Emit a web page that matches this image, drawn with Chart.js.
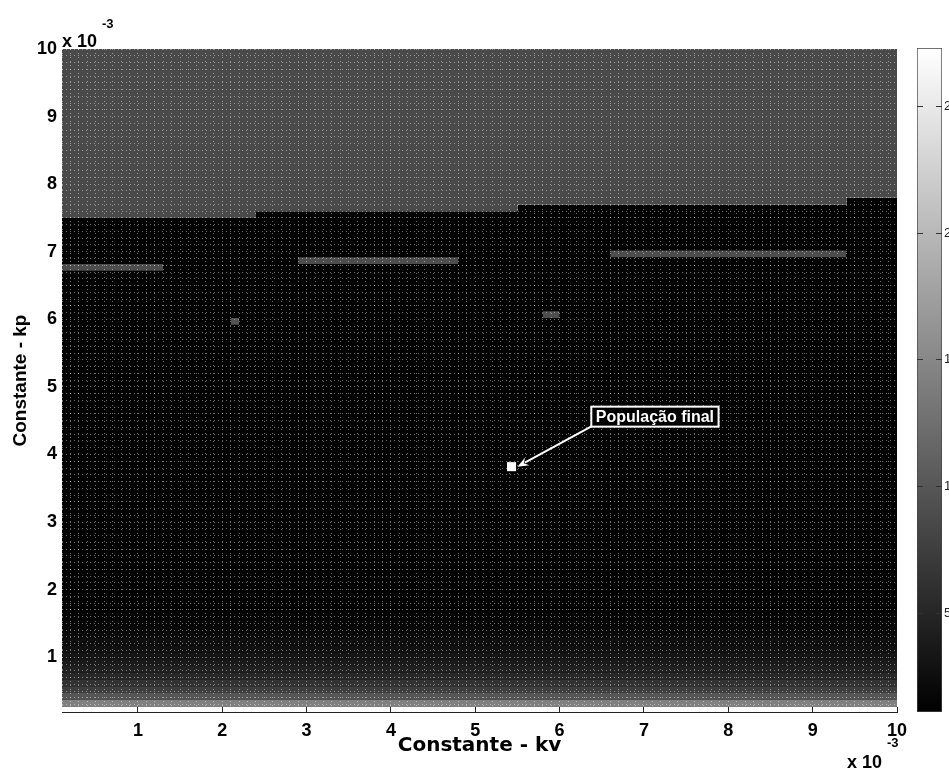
<!DOCTYPE html>
<html>
<head>
<meta charset="utf-8">
<script src="https://cdn.jsdelivr.net/npm/chart.js@4"></script>
<style>
  html, body { margin: 0; padding: 0; background: #fff; overflow: hidden; }
  #wrap { position: relative; width: 949px; height: 769px; }
  #mapChart { position: absolute; left: 0; top: 0; }
  #barChart { position: absolute; left: 900px; top: 0; }
</style>
</head>
<body>
<div id="wrap">
  <canvas id="mapChart" width="949" height="769"></canvas>
  <canvas id="barChart" width="49" height="769"></canvas>
</div>
<script>
// axes limits (values x 10^-3)
const kvMin = 0.1, kvMax = 10;
const kpAxisMin = 0.19, kpMapMin = 0.27, kpMax = 10;
const cellStep = 0.1;
const colorMin = 1.1, colorMax = 27.3;

// edge between the dark area and the grey area on top
const edgeKv = [0.1, 2.4, 5.5, 9.4, 10];
const edgeKp = [7.5, 7.6, 7.7, 7.8, 7.8];
const darkValue = 1.3;
const topValue = 8.7;

// lighter rows at the bottom, one per 0.1 of kp starting at kpMapMin
const bottomRowValue = [14.2, 9.8, 7.5, 6.2, 5.2, 4.4, 3.8, 3.3, 2.8, 2.5, 2.2, 2.0, 1.8, 1.6];

// grey strips and single cells inside the dark area
const patchKvFrom = [0.1, 2.9, 6.6, 2.1, 5.8];
const patchKvTo = [1.3, 4.8, 9.4, 2.2, 6.0];
const patchKpFrom = [6.72, 6.82, 6.92, 5.92, 6.02];
const patchKpTo = [6.82, 6.92, 7.02, 6.02, 6.12];
const patchValue = [9.0, 9.0, 9.0, 9.6, 9.0];

// final population and its label
const finalKv = [5.43];
const finalKp = [3.82];
const noteText = 'População final';
const noteKv = 7.13, noteKp = 4.56;
const arrowKv = [6.41, 5.5];
const arrowKp = [4.44, 3.82];

const axisTicks = [1, 2, 3, 4, 5, 6, 7, 8, 9, 10];
const colorTicks = [5, 10, 15, 20, 25];

const FONT = '"Liberation Sans", Arial, Helvetica, sans-serif';

function gray(v) {
    let g = Math.round(255 * (v - colorMin) / (colorMax - colorMin));
    g = Math.max(0, Math.min(255, g));
    return `rgb(${g},${g},${g})`;
}

function cellLines(from, to) {
    const out = [];
    const n = Math.round((to - from) / cellStep);
    for (let i = 0; i <= n; i++) out.push(Math.round((from + i * cellStep) * 10) / 10);
    return out;
}

function isWhole(v) {
    return Math.abs(v - Math.round(v)) < 1e-6 && axisTicks.includes(Math.round(v));
}

function rect(x0, x1, y0, y1, v, order) {
    return {
        data: [{x: x0, y: y1}, {x: x1, y: y1}],
        fill: {value: y0},
        backgroundColor: gray(v),
        borderWidth: 0,
        pointRadius: 0,
        order: order
    };
}

const datasets = [];
datasets.push({
    data: edgeKv.map((x, i) => ({x: x, y: edgeKp[i]})),
    stepped: true,
    fill: 'end',
    backgroundColor: gray(topValue),
    borderWidth: 0,
    pointRadius: 0,
    order: 10
});
datasets.push({
    data: edgeKv.map((x, i) => ({x: x, y: edgeKp[i]})),
    stepped: true,
    fill: {value: kpMapMin},
    backgroundColor: gray(darkValue),
    borderWidth: 0,
    pointRadius: 0,
    order: 10
});
bottomRowValue.forEach((v, i) => {
    const lo = kpMapMin + i * cellStep;
    datasets.push(rect(kvMin, kvMax, lo, lo + cellStep, v, 5));
});
patchValue.forEach((v, i) => {
    datasets.push(rect(patchKvFrom[i], patchKvTo[i], patchKpFrom[i], patchKpTo[i], v, 3));
});
datasets.push({
    data: finalKv.map((x, i) => ({x: x, y: finalKp[i]})),
    showLine: false,
    fill: false,
    pointStyle: 'rect',
    pointRadius: 6.4,
    pointBackgroundColor: '#fff',
    pointBorderColor: '#fff',
    pointBorderWidth: 0,
    order: 0
});

const notePlugin = {
    id: 'note',
    afterDraw(chart) {
        const {ctx, chartArea: a, scales: {x, y}} = chart;
        ctx.save();
        // arrow
        const x0 = x.getPixelForValue(arrowKv[0]), y0 = y.getPixelForValue(arrowKp[0]);
        const x1 = x.getPixelForValue(arrowKv[1]), y1 = y.getPixelForValue(arrowKp[1]);
        const ang = Math.atan2(y1 - y0, x1 - x0);
        const head = 12;
        ctx.strokeStyle = '#fff';
        ctx.fillStyle = '#fff';
        ctx.lineWidth = 2;
        ctx.beginPath();
        ctx.moveTo(x0, y0);
        ctx.lineTo(x1 - Math.cos(ang) * head * 0.7, y1 - Math.sin(ang) * head * 0.7);
        ctx.stroke();
        ctx.beginPath();
        ctx.moveTo(x1, y1);
        ctx.lineTo(x1 - head * Math.cos(ang - 0.38), y1 - head * Math.sin(ang - 0.38));
        ctx.lineTo(x1 - head * 0.6 * Math.cos(ang), y1 - head * 0.6 * Math.sin(ang));
        ctx.lineTo(x1 - head * Math.cos(ang + 0.38), y1 - head * Math.sin(ang + 0.38));
        ctx.closePath();
        ctx.fill();

        // label box
        ctx.font = 'bold 16px ' + FONT;
        const tx = x.getPixelForValue(noteKv), ty = y.getPixelForValue(noteKp);
        const w = ctx.measureText(noteText).width + 9, h = 20;
        ctx.fillStyle = '#000';
        ctx.fillRect(tx - w / 2, ty - h / 2, w, h);
        ctx.strokeRect(tx - w / 2, ty - h / 2, w, h);
        ctx.fillStyle = '#fff';
        ctx.textAlign = 'center';
        ctx.textBaseline = 'middle';
        ctx.fillText(noteText, tx, ty + 1);

        // x 10^-3 factors
        ctx.fillStyle = '#000';
        ctx.textAlign = 'left';
        ctx.textBaseline = 'alphabetic';
        ctx.font = 'bold 18px ' + FONT;
        ctx.fillText('x 10', a.left, a.top - 2);
        ctx.fillText('x 10', a.right - 50, a.bottom + 56);
        ctx.font = 'bold 13px ' + FONT;
        ctx.fillText('-3', a.left + 40, a.top - 21);
        ctx.fillText('-3', a.right - 10, a.bottom + 35);
        ctx.restore();
    }
};

new Chart(document.getElementById('mapChart'), {
    type: 'line',
    data: {datasets: datasets},
    options: {
        responsive: false,
        animation: false,
        devicePixelRatio: 1,
        events: [],
        layout: {padding: {left: 0, top: 49, right: 52, bottom: 0}},
        plugins: {legend: {display: false}, tooltip: {enabled: false}},
        scales: {
            x: {
                type: 'linear',
                min: kvMin,
                max: kvMax,
                afterBuildTicks: s => { s.ticks = cellLines(kvMin, kvMax).map(v => ({value: v})); },
                afterFit: s => { s.height = 57; },
                ticks: {
                    autoSkip: false,
                    maxRotation: 0,
                    padding: 13,
                    color: '#000',
                    font: {family: FONT, size: 18, weight: 'bold'},
                    callback: v => isWhole(v) ? String(Math.round(v)) : ''
                },
                grid: {
                    z: 1,
                    color: 'rgba(255,255,255,0.42)',
                    drawTicks: true,
                    tickLength: -5,
                    tickColor: c => (c.tick && isWhole(c.tick.value)) ? '#222' : 'rgba(0,0,0,0)'
                },
                border: {display: true, z: 1, color: '#222', width: 1, dash: [1, 3]},
                title: {
                    display: true,
                    text: 'Constante - kv',
                    color: '#000',
                    font: {family: '"DejaVu Sans", Verdana, sans-serif', size: 20, weight: 'bold'},
                    padding: {top: 0, bottom: 11}
                }
            },
            y: {
                type: 'linear',
                min: kpAxisMin,
                max: kpMax,
                afterBuildTicks: s => { s.ticks = cellLines(0.3, kpMax).map(v => ({value: v})); },
                afterFit: s => { s.width = 62; },
                ticks: {
                    autoSkip: false,
                    padding: 5,
                    color: '#000',
                    font: {family: FONT, size: 18, weight: 'bold'},
                    callback: v => isWhole(v) ? String(Math.round(v)) : ''
                },
                grid: {z: 1, color: 'rgba(255,255,255,0.42)', drawTicks: false},
                border: {display: false, dash: [1, 3]},
                title: {
                    display: true,
                    text: 'Constante - kp',
                    color: '#000',
                    font: {family: FONT, size: 19, weight: 'bold'},
                    padding: {top: 9, bottom: 0}
                }
            }
        }
    },
    plugins: [notePlugin]
});

new Chart(document.getElementById('barChart'), {
    type: 'bar',
    data: {
        labels: ['c'],
        datasets: [{
            data: [[colorMin, colorMax]],
            backgroundColor: c => {
                const ch = c.chart;
                if (!ch.chartArea) return '#888';
                const ys = ch.scales.y;
                const g = ch.ctx.createLinearGradient(0, ys.getPixelForValue(colorMin), 0, ys.getPixelForValue(colorMax));
                g.addColorStop(0, '#000');
                g.addColorStop(1, '#fff');
                return g;
            },
            borderColor: '#444',
            borderWidth: 1,
            borderSkipped: false,
            barPercentage: 1,
            categoryPercentage: 1
        }]
    },
    options: {
        responsive: false,
        animation: false,
        devicePixelRatio: 1,
        events: [],
        layout: {padding: {left: 17, top: 48, right: 0, bottom: 57}},
        plugins: {legend: {display: false}, tooltip: {enabled: false}},
        scales: {
            x: {display: false},
            y: {
                position: 'right',
                min: colorMin,
                max: colorMax,
                afterBuildTicks: s => { s.ticks = colorTicks.map(v => ({value: v})); },
                afterFit: s => { s.width = 7; },
                ticks: {padding: 2, color: '#222', font: {family: FONT, size: 13}},
                grid: {z: 1, color: '#333', drawTicks: false},
                border: {display: false, dash: [6, 13]}
            }
        }
    }
});
</script>
</body>
</html>
